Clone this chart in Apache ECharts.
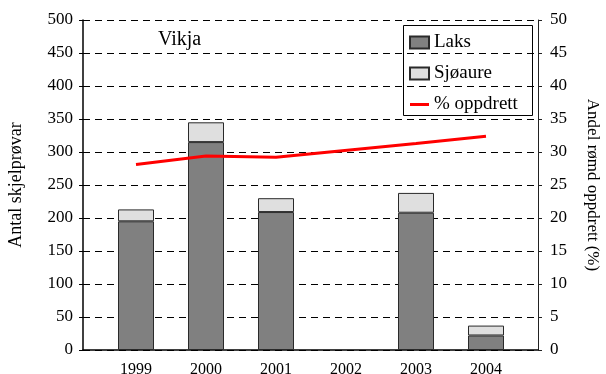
<!DOCTYPE html>
<html>
<head>
<meta charset="utf-8">
<script src="https://cdn.jsdelivr.net/npm/echarts@6/dist/echarts.min.js"></script>
<style>
  html, body { margin: 0; padding: 0; background: #fff; }
  #chart { width: 606px; height: 374px; }
</style>
</head>
<body>
<div id="chart"></div>
<script>
// Sampling years and counts of scale samples per species
const years = ['1999', '2000', '2001', '2002', '2003', '2004'];
const laks = [195, 315, 209, null, 208, 22];
const sjoaure = [18, 30, 21, null, 30, 15];
// Share of escaped farmed fish (%)
const oppdrett = [28.1, 29.4, 29.2, null, 31.3, 32.4];

const serif = 'Liberation Serif, Times New Roman, serif';
const chart = echarts.init(document.getElementById('chart'), null, { renderer: 'canvas' });

chart.setOption({
  backgroundColor: '#fff',
  animation: false,
  textStyle: { fontFamily: serif, color: '#000' },
  grid: [
    { left: 83, top: 20, width: 455, height: 330, outerBoundsMode: 'none', containLabel: false },
    { left: 101, top: 20, width: 420, height: 330, outerBoundsMode: 'none', containLabel: false }
  ],
  xAxis: [
    {
      gridIndex: 0, type: 'value', min: 0, max: 1,
      axisLine: { show: true, onZero: false, lineStyle: { color: '#000', width: 1.5 } },
      axisTick: { show: false }, axisLabel: { show: false }, splitLine: { show: false }
    },
    {
      gridIndex: 1, type: 'category', data: years,
      axisLine: { show: false, onZero: false }, axisTick: { show: false },
      axisLabel: { color: '#000', fontSize: 16, fontFamily: serif, margin: 12 }
    }
  ],
  yAxis: [
    {
      gridIndex: 0, type: 'value', min: 0, max: 500, interval: 50, position: 'left',
      name: 'Antal skjelprøvar', nameLocation: 'middle', nameGap: 58,
      nameTextStyle: { fontSize: 18, fontFamily: serif, color: '#000' },
      axisLine: { show: true, lineStyle: { color: '#000', width: 1.5 } },
      axisTick: { show: true, length: 4, lineStyle: { color: '#000' } },
      axisLabel: { color: '#000', fontSize: 17, fontFamily: serif, margin: 10 },
      splitLine: { show: true, lineStyle: { color: '#000', type: [7, 5], width: 1 } }
    },
    {
      gridIndex: 0, type: 'value', min: 0, max: 50, interval: 5, position: 'right',
      name: 'Andel rømd oppdrett (%)', nameLocation: 'middle', nameGap: 46, nameRotate: -90,
      nameTextStyle: { fontSize: 17, fontFamily: serif, color: '#000' },
      axisLine: { show: true, lineStyle: { color: '#222', width: 1 } },
      axisTick: { show: true, length: 4, lineStyle: { color: '#222' } },
      axisLabel: { color: '#000', fontSize: 17, fontFamily: serif, margin: 12 },
      splitLine: { show: false }
    },
    { gridIndex: 1, type: 'value', min: 0, max: 500, show: false, splitLine: { show: false } },
    { gridIndex: 1, type: 'value', min: 0, max: 50, show: false, position: 'right', splitLine: { show: false } }
  ],
  legend: {
    orient: 'vertical', left: 409, top: 33, padding: 0,
    itemWidth: 19, itemHeight: 12, itemGap: 12,
    textStyle: { fontSize: 19, fontFamily: serif, color: '#000', lineHeight: 19 },
    data: [
      { name: 'Laks', icon: 'rect' },
      { name: 'Sjøaure', icon: 'rect' },
      { name: '% oppdrett', icon: 'path://M0,0H19V3H0Z', itemStyle: { color: '#ff0000' } }
    ]
  },
  graphic: [
    {
      type: 'rect', left: 403, top: 25, z: 0,
      shape: { width: 129, height: 90 },
      style: { fill: '#fff', stroke: '#000', lineWidth: 1 }
    },
    {
      type: 'text', left: 158, top: 30, z: 10,
      style: { text: 'Vikja', font: '20px ' + serif, fill: '#000' }
    }
  ],
  series: [
    {
      name: 'Laks', type: 'bar', stack: 'n', xAxisIndex: 1, yAxisIndex: 2,
      barWidth: 36, data: laks,
      itemStyle: { color: '#808080', borderColor: '#2a2a2a', borderWidth: 1 }
    },
    {
      name: 'Sjøaure', type: 'bar', stack: 'n', xAxisIndex: 1, yAxisIndex: 2,
      barWidth: 36, data: sjoaure,
      itemStyle: { color: '#dfdfdf', borderColor: '#2a2a2a', borderWidth: 1 }
    },
    {
      name: '% oppdrett', type: 'line', xAxisIndex: 1, yAxisIndex: 3,
      data: oppdrett, connectNulls: true, symbol: 'none',
      lineStyle: { color: '#ff0000', width: 3 }, itemStyle: { color: '#ff0000' }, z: 5
    }
  ]
});
</script>
</body>
</html>
